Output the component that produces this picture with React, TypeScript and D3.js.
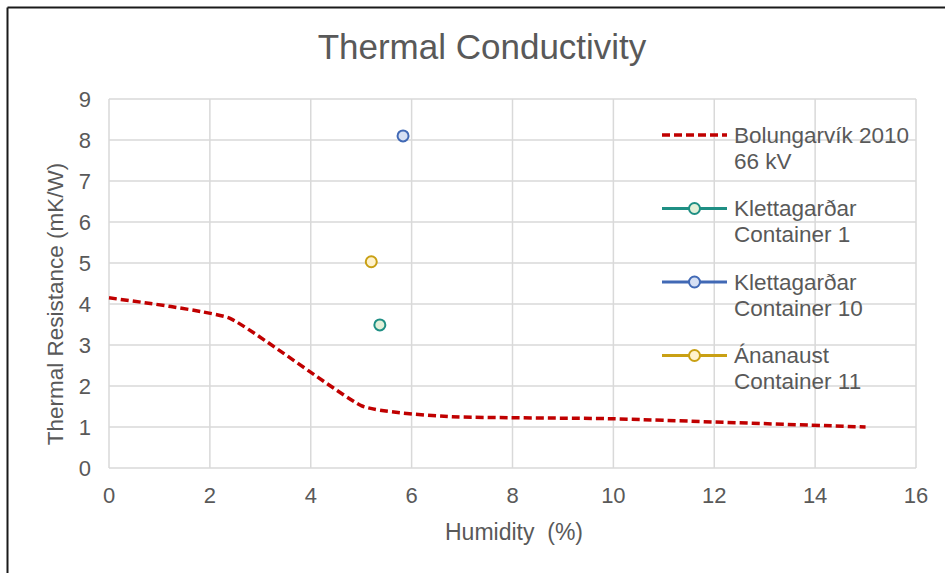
import React from "react";
import * as d3 from "d3";

const xTicks = [0, 2, 4, 6, 8, 10, 12, 14, 16];
const yTicks = [0, 1, 2, 3, 4, 5, 6, 7, 8, 9];

const bolungarvikX = [0, 2.4, 5, 6.8, 10, 15];
const bolungarvikY = [4.15, 3.65, 1.52, 1.25, 1.2, 1.0];

const pointNames = ["Klettagarðar Container 1", "Klettagarðar Container 10", "Ánanaust Container 11"];
const pointX = [5.37, 5.83, 5.2];
const pointY = [3.49, 8.1, 5.03];

const legendLabels = [
  ["Bolungarvík 2010", "66 kV"],
  ["Klettagarðar", "Container 1"],
  ["Klettagarðar", "Container 10"],
  ["Ánanaust", "Container 11"],
];

const strokeColors = ["#C00000", "#1F8F84", "#4169B5", "#C9A014"];
const fillColors = ["none", "#E2F0D9", "#D6E0F4", "#FFF2CC"];

export default function App() {
  const W = 945, H = 573;
  const left = 109, right = 916, top = 99, bottom = 468;
  const x = d3.scaleLinear().domain([0, 16]).range([left, right]);
  const y = d3.scaleLinear().domain([0, 9]).range([bottom, top]);
  const font = "'Liberation Sans', Arial, sans-serif";
  const textColor = "#595959";

  const lineData = bolungarvikX.map((v, i) => [v, bolungarvikY[i]] as [number, number]);
  const line = d3
    .line<[number, number]>()
    .x((d) => x(d[0]))
    .y((d) => y(d[1]))
    .curve(d3.curveCardinal.tension(0.6));

  const legendX1 = 662, legendX2 = 727, legendTextX = 734;
  const legendY0 = 135, legendStep = 73.5;

  return (
    <svg width={W} height={H} style={{ position: "absolute", left: 0, top: 0, background: "#fff" }} fontFamily={font}>
      <rect x={0} y={0} width={W} height={H} fill="#fff" />
      <line x1={7.5} y1={7.5} x2={W} y2={7.5} stroke="#1a1a1a" strokeWidth={2} />
      <line x1={7.5} y1={7.5} x2={7.5} y2={H} stroke="#1a1a1a" strokeWidth={2} />

      <text x={482} y={59} textAnchor="middle" fontSize={35} fill={textColor}>
        Thermal Conductivity
      </text>

      {xTicks.map((t) => (
        <line key={"gx" + t} x1={x(t)} x2={x(t)} y1={top} y2={bottom} stroke="#d9d9d9" strokeWidth={1.5} />
      ))}
      {yTicks.map((t) => (
        <line key={"gy" + t} x1={left} x2={right} y1={y(t)} y2={y(t)} stroke="#d9d9d9" strokeWidth={1.5} />
      ))}

      {xTicks.map((t) => (
        <text key={"tx" + t} x={x(t)} y={503} textAnchor="middle" fontSize={22} fill={textColor}>
          {t}
        </text>
      ))}
      {yTicks.map((t) => (
        <text key={"ty" + t} x={91} y={y(t)} dy="0.35em" textAnchor="end" fontSize={22} fill={textColor}>
          {t}
        </text>
      ))}

      <text x={514} y={540} textAnchor="middle" fontSize={23} fill={textColor} style={{ whiteSpace: "pre" }}>
        {"Humidity  (%)"}
      </text>
      <text
        transform={`translate(63, 304) rotate(-90)`}
        textAnchor="middle"
        fontSize={22.5}
        fill={textColor}
      >
        Thermal Resistance (mK/W)
      </text>

      <path d={line(lineData) || ""} fill="none" stroke={strokeColors[0]} strokeWidth={3.5} strokeDasharray="8 4" />

      {pointX.map((px, i) => (
        <circle
          key={"p" + i}
          cx={x(px)}
          cy={y(pointY[i])}
          r={5.5}
          fill={fillColors[i + 1]}
          stroke={strokeColors[i + 1]}
          strokeWidth={2}
        >
          <title>{pointNames[i]}</title>
        </circle>
      ))}

      {legendLabels.map((lines, i) => {
        const cy = legendY0 + i * legendStep;
        return (
          <g key={"lg" + i}>
            {i === 0 ? (
              <line x1={legendX1} x2={legendX2} y1={cy} y2={cy} stroke={strokeColors[0]} strokeWidth={3.5} strokeDasharray="8 4" />
            ) : (
              <>
                <line x1={legendX1} x2={legendX2} y1={cy} y2={cy} stroke={strokeColors[i]} strokeWidth={3} />
                <circle cx={(legendX1 + legendX2) / 2} cy={cy} r={5.5} fill={fillColors[i]} stroke={strokeColors[i]} strokeWidth={2} />
              </>
            )}
            {lines.map((l, j) => (
              <text key={j} x={legendTextX} y={cy + j * 26} dy="0.35em" fontSize={22.5} fill={textColor}>
                {l}
              </text>
            ))}
          </g>
        );
      })}
    </svg>
  );
}
